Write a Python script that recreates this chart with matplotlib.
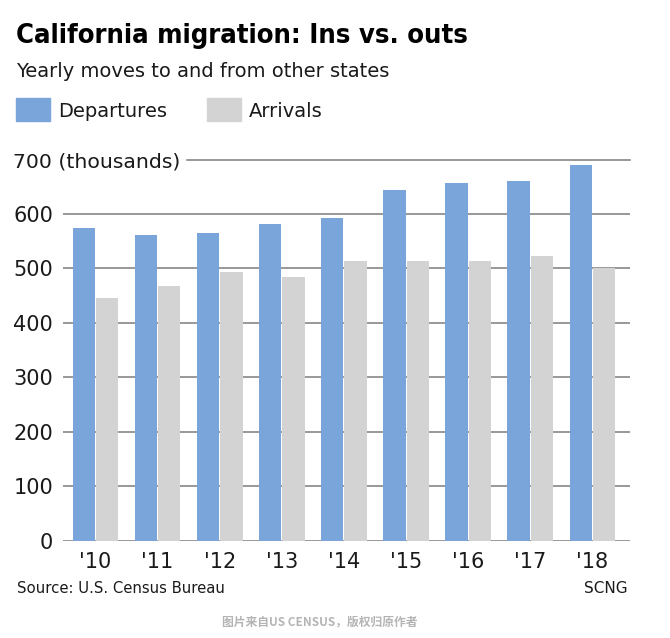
import matplotlib
matplotlib.use("Agg")
import matplotlib.pyplot as plt
import numpy as np

# data (thousands of people)
years      = ["'10", "'11", "'12", "'13", "'14", "'15", "'16", "'17", "'18"]
departures = [574, 561, 566, 582, 593, 644, 657, 661, 690]
arrivals   = [445, 468, 494, 485, 514, 514, 514, 523, 501]
yticks     = [0, 100, 200, 300, 400, 500, 600, 700]

BLUE = "#79a5da"
GRAY = "#d3d3d3"
GRID = "#7c7c7c"
TXT  = "#1a1a1a"

W, H = 670, 638
fig = plt.figure(figsize=(W / 100, H / 100), dpi=100)
fig.patch.set_facecolor("white")

# axes box in pixels: x 62.7..630, y 159.6..540.7 (from top)
ax = fig.add_axes([62.7 / W, (H - 540.7) / H, (630 - 62.7) / W, (540.7 - 159.6) / H])

x = np.arange(len(years))
bw = 0.36
ax.bar(x - 0.188, departures, bw, color=BLUE, zorder=3)
ax.bar(x + 0.188, arrivals, bw, color=GRAY, zorder=3)

ax.set_xlim(-0.528, 8.604)
ax.set_ylim(0, 700)

for v in yticks[:-1]:
    ax.axhline(v, color=GRID, lw=1.1, zorder=1)
# top gridline starts after the "(thousands)" label
ax.axhline(700, xmin=(186.7 - 62.7) / (630 - 62.7), color=GRID, lw=1.1, zorder=1,
           clip_on=False)

ax.set_yticks(yticks)
ax.set_yticklabels([str(v) for v in yticks[:-1]] + [""])
ax.set_xticks(x)
ax.set_xticklabels(years)
ax.tick_params(axis="y", length=0, pad=7, labelsize=15, labelcolor=TXT)
ax.tick_params(axis="x", length=0, pad=8, labelsize=15, labelcolor=TXT)
for s in ax.spines.values():
    s.set_visible(False)

# "700 (thousands)" label sits left of the top gridline
fig.text(12.7 / W, (H - 159.6) / H, "700 (thousands)", fontsize=14.7, color=TXT,
         ha="left", va="center_baseline")

# title + subtitle
fig.text(16 / W, (H - 42.7) / H, "California migration: Ins vs. outs",
         family=["Liberation Sans Narrow", "DejaVu Sans"], fontweight="bold",
         fontstretch="condensed", fontsize=19.6, color="black", ha="left", va="baseline")
fig.text(16 / W, (H - 76.7) / H, "Yearly moves to and from other states",
         fontsize=14, color=TXT, ha="left", va="baseline")

# legend drawn by hand
for x0, col, lab in [(16, BLUE, "Departures"), (206.7, GRAY, "Arrivals")]:
    fig.patches.append(plt.Rectangle((x0 / W, (H - 120.7) / H), 34 / W, 22.4 / H,
                                     transform=fig.transFigure, color=col))
    fig.text((x0 + 42) / W, (H - 116.7) / H, lab, fontsize=14, color=TXT,
             ha="left", va="baseline")

# footer
fig.text(17.3 / W, (H - 593.3) / H, "Source: U.S. Census Bureau", fontsize=10.75,
         color=TXT, ha="left", va="baseline")
fig.text(627.7 / W, (H - 593.3) / H, "SCNG", fontsize=11, color=TXT,
         ha="right", va="baseline")
fig.text(320 / W, (H - 621.7) / H, "图片来自US CENSUS，版权归原作者",
         family=["Noto Sans CJK SC", "DejaVu Sans"], fontweight="bold",
         fontsize=8.5, color="#b4b4b4", ha="center", va="center")

fig.savefig("out.png", dpi=100, facecolor="white")
